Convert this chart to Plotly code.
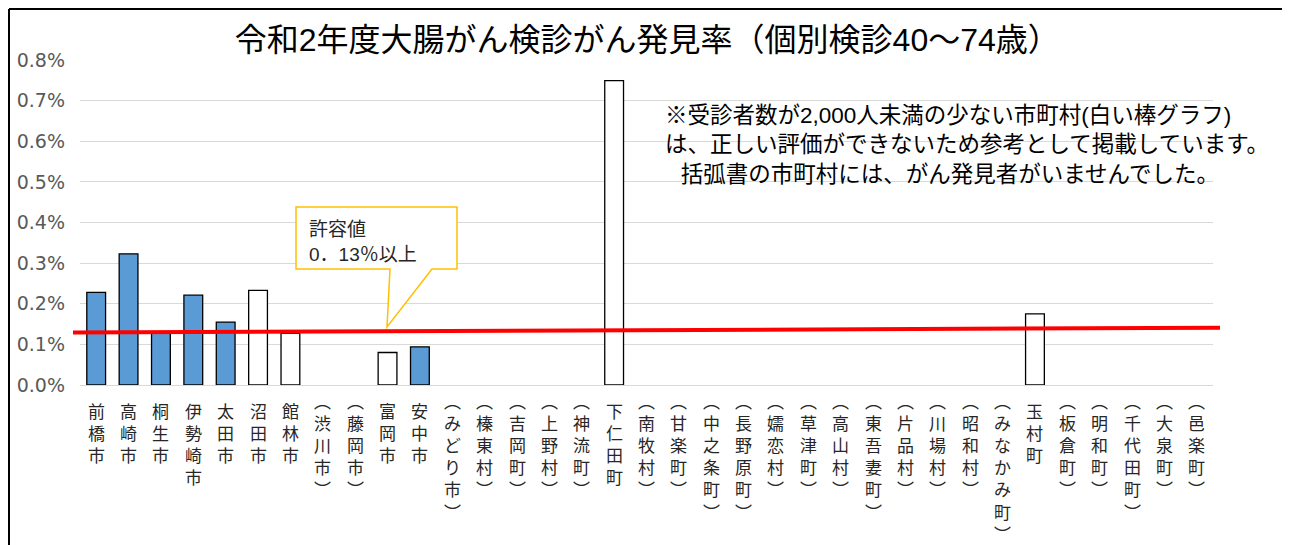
import plotly.graph_objects as go

# ---- data ----
municipalities = [
    "前橋市", "高崎市", "桐生市", "伊勢崎市", "太田市", "沼田市", "館林市",
    "（渋川市）", "（藤岡市）", "富岡市", "安中市", "（みどり市）", "（榛東村）",
    "（吉岡町）", "（上野村）", "（神流町）", "下仁田町", "（南牧村）", "（甘楽町）",
    "（中之条町）", "（長野原町）", "（嬬恋村）", "（草津町）", "（高山村）",
    "（東吾妻町）", "（片品村）", "（川場村）", "（昭和村）", "（みなかみ町）",
    "玉村町", "（板倉町）", "（明和町）", "（千代田町）", "（大泉町）", "（邑楽町）",
]
detection_rate = [
    0.228, 0.323, 0.127, 0.221, 0.155, 0.233, 0.127,
    0.0, 0.0, 0.080, 0.094, 0.0, 0.0,
    0.0, 0.0, 0.0, 0.749, 0.0, 0.0,
    0.0, 0.0, 0.0, 0.0, 0.0,
    0.0, 0.0, 0.0, 0.0, 0.0,
    0.175, 0.0, 0.0, 0.0, 0.0, 0.0,
]
# True = 2,000 or more examinees (blue bar); False = fewer (white bar)
large_sample = [
    True, True, True, True, True, False, False,
    True, True, False, True, True, False,
    False, False, False, False, False, False,
    False, False, False, False, False,
    False, False, False, False, False,
    False, False, False, False, False, False,
]
threshold_start = 0.129   # red reference line (drawn slightly sloped in the original)
threshold_end = 0.141
y_ticks = [0.0, 0.1, 0.2, 0.3, 0.4, 0.5, 0.6, 0.7, 0.8]

title_text = "令和2年度大腸がん検診がん発見率（個別検診40～74歳）"
note_lines = [
    "※受診者数が2,000人未満の少ない市町村(白い棒グラフ)",
    "は、正しい評価ができないため参考として掲載しています。",
    "\u2002\u2009括弧書の市町村には、がん発見者がいませんでした。",
]
callout_lines = ["許容値", "0．13％以上"]

# ---- build ----
MIXED = "Liberation Sans, Noto Sans CJK JP"
BLUE = "#5B9BD5"

def vertical(label):
    label = label.replace("（", "︵").replace("）", "︶")
    return "<br>".join(list(label))

colors = [BLUE if b else "#FFFFFF" for b in large_sample]
line_w = [1.3 if v > 0 else 0 for v in detection_rate]
y_tick_text = [f"{v:.1f}%" for v in y_ticks]

fig = go.Figure()
fig.add_trace(go.Bar(
    x=municipalities,
    y=detection_rate,
    marker=dict(color=colors, line=dict(color="#000000", width=line_w)),
    width=0.58,
    showlegend=False,
    hoverinfo="x+y",
))

# The page body has an 8px margin, so the figure starts at screen (8, 8).
OFF = 8
SCR_L, SCR_R, SCR_T, SCR_B = 80, 1213, 60, 385   # plot area on screen
W, H = 1290 - OFF, 545 - OFF
L, T = SCR_L - OFF, SCR_T - OFF
R, B = W - (SCR_R - OFF), H - (SCR_B - OFF)
pw, ph = SCR_R - SCR_L, SCR_B - SCR_T

def px(x):  # screen x -> paper
    return (x - SCR_L) / pw

def py(y):  # screen y -> paper
    return (SCR_B - y) / ph

shapes = []
shapes.append(dict(type="line", xref="paper", yref="y",
                   x0=px(73), x1=px(1220), y0=threshold_start, y1=threshold_end,
                   line=dict(color="#FF0000", width=4), layer="above"))
bx0, bx1, bt, bb = px(296), px(457), py(207), py(269)
pl, pr, tipx, tipy = px(390), px(432), px(387), py(327)
path = (f"M {bx0},{bt} L {bx1},{bt} L {bx1},{bb} L {pr},{bb} "
        f"L {tipx},{tipy} L {pl},{bb} L {bx0},{bb} Z")
shapes.append(dict(type="path", xref="paper", yref="paper", path=path,
                   fillcolor="#FFFFFF", line=dict(color="#FFC000", width=1.5),
                   layer="above"))
shapes.append(dict(type="line", xref="paper", yref="paper",
                   x0=px(9), x1=px(1288), y0=py(9), y1=py(9),
                   line=dict(color="#000000", width=2)))
shapes.append(dict(type="line", xref="paper", yref="paper",
                   x0=px(9), x1=px(9), y0=py(9), y1=py(560),
                   line=dict(color="#000000", width=2)))
shapes.append(dict(type="line", xref="paper", yref="paper",
                   x0=px(1287), x1=px(1287), y0=py(9), y1=py(560),
                   line=dict(color="#808080", width=1.5)))

annotations = [
    dict(xref="paper", yref="paper", x=px(307), y=py(217), xanchor="left", yanchor="top",
         text="<br>".join(callout_lines), align="left", showarrow=False,
         font=dict(family=MIXED, size=19, color="#262626")),
    dict(xref="paper", yref="paper", x=px(663), y=py(101), xanchor="left", yanchor="top",
         text="<br>".join(note_lines), align="left", showarrow=False,
         font=dict(family=MIXED, size=22.5, color="#000000")),
]
# vertical category labels (parenthesised ones start half a row higher)
for m in municipalities:
    shift = 10 if m.startswith("（") else 0
    annotations.append(dict(
        xref="x", yref="paper", x=m, y=py(401), xanchor="center", yanchor="top",
        text=vertical(m), align="center", showarrow=False, yshift=shift,
        font=dict(family=MIXED, size=17, color="#262626")))

fig.update_layout(
    width=W, height=H,
    margin=dict(l=L, r=R, t=T, b=B, pad=0, autoexpand=False),
    paper_bgcolor="#FFFFFF", plot_bgcolor="#FFFFFF",
    title=dict(text=title_text, x=px(645), xanchor="center", y=1 - (40 - OFF) / H,
               yanchor="middle", automargin=False,
               font=dict(family=MIXED, size=32, color="#000000")),
    shapes=shapes,
    annotations=annotations,
    font=dict(family=MIXED),
)
fig.update_xaxes(
    showticklabels=False, showline=False, showgrid=False, ticks="",
    range=[-0.5, len(municipalities) - 0.5], automargin=False,
)
fig.update_yaxes(
    range=[0, 0.8], tickvals=y_ticks, ticktext=y_tick_text,
    tickfont=dict(family="DejaVu Sans", size=19, color="#595959"),
    showgrid=True, gridcolor="#D9D9D9", gridwidth=1,
    zeroline=True, zerolinecolor="#D9D9D9", zerolinewidth=1,
    showline=False, ticks="", ticklabelstandoff=14, automargin=False,
)

fig.write_html("out.html")
